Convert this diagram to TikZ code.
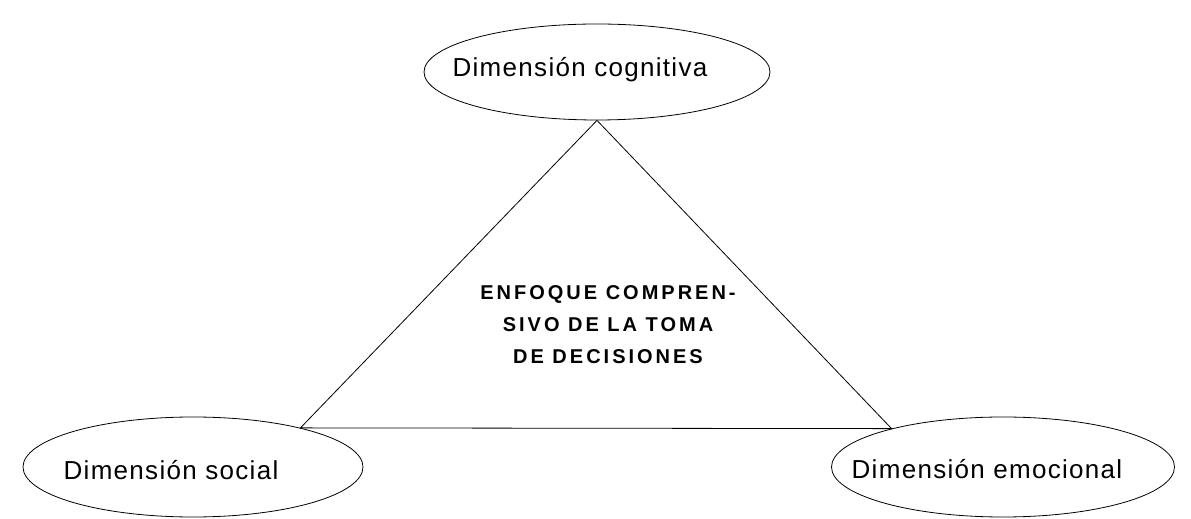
\documentclass[tikz,border=0pt]{standalone}
\usepackage{fontspec}
\setmainfont{Liberation Sans}
\newfontfamily\dimfont[LetterSpace=5]{Liberation Sans}
\newfontfamily\enffont[LetterSpace=15]{Liberation Sans}
\usetikzlibrary{shapes.geometric}
\tikzset{
	dimension/.style={draw, ellipse, line width=0.8pt, inner sep=0pt},
	dimtext/.style={font=\dimfont\fontsize{26}{30}\selectfont},
}

\begin{document}
\begin{tikzpicture}[x=1pt,y=1pt]
				\useasboundingbox (0,0) rectangle (1191,519);
				
				\node[dimension, minimum width=346pt, minimum height=96pt] (cog) at (597,447) {};
				\node[dimension, minimum width=340pt, minimum height=100pt] (soc) at (193,52) {};
				\node[dimension, minimum width=343pt, minimum height=100pt] (emo) at (1003,52) {};
				
				\node[dimtext] (cogtext) at (580,449) {Dimensión cognitiva};
				\node[dimtext] (soctext) at (171,49) {Dimensión social};
				\node[dimtext] (emotext) at (987,50) {Dimensión emocional};
				
				\draw[line width=0.8pt] (cog.south) -- (emo.161) -- (soc.20) -- cycle;
				
				\node[align=center, font=\enffont\bfseries\fontsize{20}{32}\selectfont] (enfoque) at (608,194) {ENFOQUE COMPREN-\\SIVO DE LA TOMA\\DE DECISIONES};
			\end{tikzpicture}
\end{document}
